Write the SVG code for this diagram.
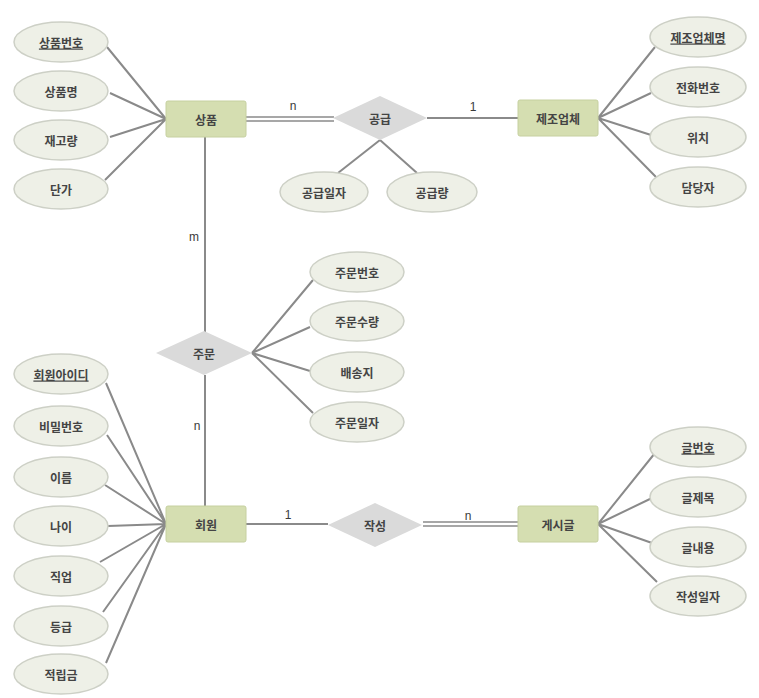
<svg xmlns="http://www.w3.org/2000/svg" width="759" height="698" viewBox="0 0 759 698">
  <style>
    .attr { fill: #eef0e7; stroke: #cdd0c6; stroke-width: 1.5; }
    .ent { fill: #d5deb1; stroke: #c6d0a0; stroke-width: 1; }
    .rel { fill: #dadada; stroke: none; }
    .lbl { font-family: "Noto Sans CJK KR", "Noto Sans", sans-serif; font-size: 12px; font-weight: 700; fill: #444444; text-anchor: middle; dominant-baseline: central; }
    .key { text-decoration: underline; }
    .card { font-family: "Liberation Sans", "Noto Sans", sans-serif; font-size: 12px; fill: #3a3a3a; text-anchor: middle; }
    .conn { stroke: #8a8a8a; stroke-width: 2; fill: none; }
    .dbl { stroke: #8a8a8a; stroke-width: 1.5; fill: none; }
  </style>
  <rect width="759" height="698" fill="#ffffff"/>

  <!-- connectors -->
  <g id="connectors">
    <!-- 상품 attributes -->
    <path class="conn" d="M166 119 L107 47 M166 119 L110 93 M166 119 L110 137 M166 119 L105 180"/>
    <!-- 제조업체 attributes -->
    <path class="conn" d="M598 118 L655 47 M598 118 L651 93 M598 118 L651 135 M598 118 L656 177"/>
    <!-- 공급 attributes -->
    <path class="conn" d="M380 140 L338 173 M380 140 L417 173"/>
    <!-- 주문 attributes -->
    <path class="conn" d="M252 353 L313 280 M252 353 L310 327 M252 353 L310 371 M252 353 L313 413"/>
    <!-- 회원 attributes -->
    <path class="conn" d="M166 524 L106 383 M166 524 L107 435 M166 524 L105 485 M166 524 L108 526 M166 524 L100 562 M166 524 L103 612 M166 524 L106 663"/>
    <!-- 게시글 attributes -->
    <path class="conn" d="M598 524 L655 453 M598 524 L652 498 M598 524 L652 543 M598 524 L657 582"/>
    <!-- 상품 = 공급 (total participation) -->
    <path class="dbl" d="M246 117 L334 117 M246 121 L334 121"/>
    <!-- 공급 - 제조업체 -->
    <path class="conn" d="M427 118 L518 118"/>
    <!-- 상품 - 주문 - 회원 -->
    <path class="conn" d="M205 137 L205 332 M205 375 L205 506"/>
    <!-- 회원 - 작성 -->
    <path class="conn" d="M246 524 L328 524"/>
    <!-- 작성 = 게시글 -->
    <path class="dbl" d="M423 522 L518 522 M423 526 L518 526"/>
    <!-- cardinalities -->
    <text class="card" x="293" y="110">n</text>
    <text class="card" x="473" y="111">1</text>
    <text class="card" x="194" y="241">m</text>
    <text class="card" x="197" y="430">n</text>
    <text class="card" x="288" y="519">1</text>
    <text class="card" x="468" y="520">n</text>
  </g>

  <!-- entities -->
  <g id="product">
    <rect class="ent" x="166" y="101" width="80" height="36" rx="2"/>
    <text class="lbl" x="206" y="119">상품</text>
  </g>
  <g id="manufacturer">
    <rect class="ent" x="518" y="100" width="80" height="36" rx="2"/>
    <text class="lbl" x="558" y="118">제조업체</text>
  </g>
  <g id="member">
    <rect class="ent" x="166" y="506" width="80" height="36" rx="2"/>
    <text class="lbl" x="206" y="524">회원</text>
  </g>
  <g id="post">
    <rect class="ent" x="518" y="506" width="80" height="36" rx="2"/>
    <text class="lbl" x="558" y="524">게시글</text>
  </g>

  <!-- relationships -->
  <g id="supply">
    <polygon class="rel" points="333,118 380,96 427,118 380,140"/>
    <text class="lbl" x="380" y="118">공급</text>
  </g>
  <g id="order">
    <polygon class="rel" points="156,353 204,331 252,353 204,375"/>
    <text class="lbl" x="204" y="353">주문</text>
  </g>
  <g id="write">
    <polygon class="rel" points="328,525 375,503 422,525 375,547"/>
    <text class="lbl" x="375" y="525">작성</text>
  </g>

  <!-- 상품 attributes -->
  <g id="attr-product-no">
    <ellipse class="attr" cx="61" cy="42" rx="47" ry="20"/>
    <text class="lbl key" x="61" y="42">상품번호</text>
  </g>
  <g id="attr-product-name">
    <ellipse class="attr" cx="61" cy="91" rx="47" ry="20"/>
    <text class="lbl" x="61" y="91">상품명</text>
  </g>
  <g id="attr-stock">
    <ellipse class="attr" cx="61" cy="140" rx="47" ry="20"/>
    <text class="lbl" x="61" y="140">재고량</text>
  </g>
  <g id="attr-price">
    <ellipse class="attr" cx="61" cy="189" rx="47" ry="20"/>
    <text class="lbl" x="61" y="189">단가</text>
  </g>

  <!-- 공급 attributes -->
  <g id="attr-supply-date">
    <ellipse class="attr" cx="324" cy="192" rx="44" ry="20"/>
    <text class="lbl" x="324" y="192">공급일자</text>
  </g>
  <g id="attr-supply-qty">
    <ellipse class="attr" cx="432" cy="192" rx="45" ry="20"/>
    <text class="lbl" x="432" y="192">공급량</text>
  </g>

  <!-- 제조업체 attributes -->
  <g id="attr-maker-name">
    <ellipse class="attr" cx="698" cy="37" rx="48" ry="20"/>
    <text class="lbl key" x="698" y="37">제조업체명</text>
  </g>
  <g id="attr-phone">
    <ellipse class="attr" cx="698" cy="87" rx="48" ry="20"/>
    <text class="lbl" x="698" y="87">전화번호</text>
  </g>
  <g id="attr-location">
    <ellipse class="attr" cx="698" cy="137" rx="48" ry="20"/>
    <text class="lbl" x="698" y="137">위치</text>
  </g>
  <g id="attr-manager">
    <ellipse class="attr" cx="698" cy="187" rx="48" ry="20"/>
    <text class="lbl" x="698" y="187">담당자</text>
  </g>

  <!-- 주문 attributes -->
  <g id="attr-order-no">
    <ellipse class="attr" cx="357" cy="272" rx="47" ry="20"/>
    <text class="lbl" x="357" y="272">주문번호</text>
  </g>
  <g id="attr-order-qty">
    <ellipse class="attr" cx="357" cy="321" rx="47" ry="20"/>
    <text class="lbl" x="357" y="321">주문수량</text>
  </g>
  <g id="attr-address">
    <ellipse class="attr" cx="357" cy="372" rx="47" ry="20"/>
    <text class="lbl" x="357" y="372">배송지</text>
  </g>
  <g id="attr-order-date">
    <ellipse class="attr" cx="357" cy="422" rx="47" ry="20"/>
    <text class="lbl" x="357" y="422">주문일자</text>
  </g>

  <!-- 회원 attributes -->
  <g id="attr-member-id">
    <ellipse class="attr" cx="61" cy="374" rx="47" ry="20"/>
    <text class="lbl key" x="61" y="374">회원아이디</text>
  </g>
  <g id="attr-password">
    <ellipse class="attr" cx="61" cy="426" rx="47" ry="20"/>
    <text class="lbl" x="61" y="426">비밀번호</text>
  </g>
  <g id="attr-name">
    <ellipse class="attr" cx="61" cy="477" rx="47" ry="20"/>
    <text class="lbl" x="61" y="477">이름</text>
  </g>
  <g id="attr-age">
    <ellipse class="attr" cx="61" cy="526" rx="47" ry="20"/>
    <text class="lbl" x="61" y="526">나이</text>
  </g>
  <g id="attr-job">
    <ellipse class="attr" cx="61" cy="576" rx="47" ry="20"/>
    <text class="lbl" x="61" y="576">직업</text>
  </g>
  <g id="attr-grade">
    <ellipse class="attr" cx="61" cy="626" rx="47" ry="20"/>
    <text class="lbl" x="61" y="626">등급</text>
  </g>
  <g id="attr-points">
    <ellipse class="attr" cx="61" cy="674" rx="47" ry="20"/>
    <text class="lbl" x="61" y="674">적립금</text>
  </g>

  <!-- 게시글 attributes -->
  <g id="attr-post-no">
    <ellipse class="attr" cx="698" cy="447" rx="48" ry="20"/>
    <text class="lbl key" x="698" y="447">글번호</text>
  </g>
  <g id="attr-title">
    <ellipse class="attr" cx="698" cy="497" rx="48" ry="20"/>
    <text class="lbl" x="698" y="497">글제목</text>
  </g>
  <g id="attr-content">
    <ellipse class="attr" cx="698" cy="547" rx="48" ry="20"/>
    <text class="lbl" x="698" y="547">글내용</text>
  </g>
  <g id="attr-post-date">
    <ellipse class="attr" cx="698" cy="596" rx="48" ry="20"/>
    <text class="lbl" x="698" y="596">작성일자</text>
  </g>
</svg>
